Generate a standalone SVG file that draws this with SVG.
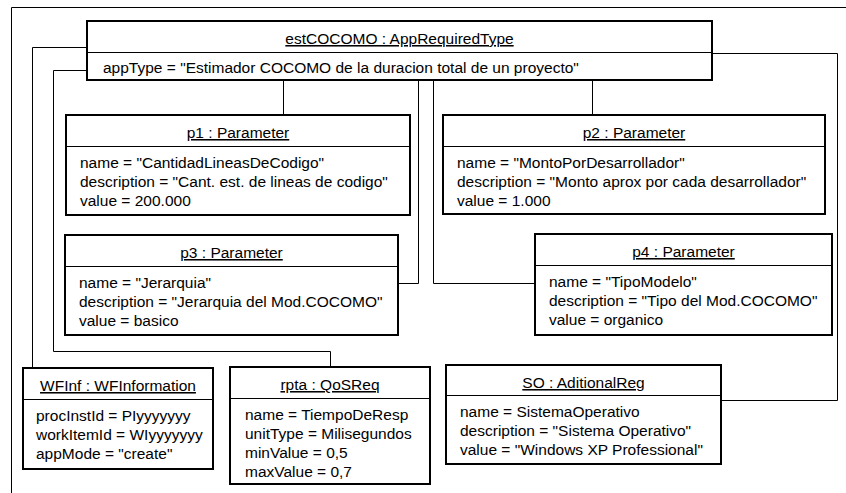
<svg xmlns="http://www.w3.org/2000/svg" width="846" height="493" viewBox="0 0 846 493">
<style>
.box{fill:#fff;stroke:#000;stroke-width:2}
.sep{stroke:#000;stroke-width:1}
.t{font-family:"Liberation Sans",Arial,sans-serif;font-size:15.5px;fill:#000}
.h{text-anchor:middle;text-decoration:underline}
.c{fill:none;stroke:#000;stroke-width:1}
</style>
<rect width="846" height="493" fill="#fff"/>
<path class="c" d="M11.5,493 V7.5 H846"/>
<g id="connectors">
<path class="c" d="M87,47.5 H32.5 V368"/>
<path class="c" d="M87,70.5 H53.5 V351.5 H330.5 V367"/>
<path class="c" d="M283.5,80 V115"/>
<path class="c" d="M592.5,80 V115"/>
<path class="c" d="M418.5,80 V283.5 H398"/>
<path class="c" d="M433.5,80 V283.5 H535"/>
<path class="c" d="M712,53.5 H837.5 V400.5 H721"/>
</g>
<g id="estCOCOMO">
<rect class="box" x="87" y="21" width="625" height="59"/>
<line class="sep" x1="87" y1="52.5" x2="712" y2="52.5"/>
<text class="t h" x="399.5" y="44">estCOCOMO : AppRequiredType</text>
<text class="t" x="103" y="73">appType = "Estimador COCOMO de la duracion total de un proyecto"</text>
</g>
<g id="p1">
<rect class="box" x="66" y="115" width="344" height="100"/>
<line class="sep" x1="66" y1="146.5" x2="410" y2="146.5"/>
<text class="t h" x="238" y="138">p1 : Parameter</text>
<text class="t" x="80" y="168">name = "CantidadLineasDeCodigo"</text>
<text class="t" x="80" y="187">description = "Cant. est. de lineas de codigo"</text>
<text class="t" x="80" y="206">value = 200.000</text>
</g>
<g id="p2">
<rect class="box" x="443" y="115" width="382" height="99"/>
<line class="sep" x1="443" y1="146.5" x2="825" y2="146.5"/>
<text class="t h" x="634" y="138">p2 : Parameter</text>
<text class="t" x="457" y="168">name = "MontoPorDesarrollador"</text>
<text class="t" x="457" y="187">description = "Monto aprox por cada desarrollador"</text>
<text class="t" x="457" y="206">value = 1.000</text>
</g>
<g id="p3">
<rect class="box" x="65" y="235" width="333" height="100"/>
<line class="sep" x1="65" y1="266.5" x2="398" y2="266.5"/>
<text class="t h" x="231.5" y="258">p3 : Parameter</text>
<text class="t" x="79" y="288">name = "Jerarquia"</text>
<text class="t" x="79" y="307">description = "Jerarquia del Mod.COCOMO"</text>
<text class="t" x="79" y="326">value = basico</text>
</g>
<g id="p4">
<rect class="box" x="535" y="234" width="297" height="101"/>
<line class="sep" x1="535" y1="265.5" x2="832" y2="265.5"/>
<text class="t h" x="683.5" y="257">p4 : Parameter</text>
<text class="t" x="549" y="287">name = "TipoModelo"</text>
<text class="t" x="549" y="306">description = "Tipo del Mod.COCOMO"</text>
<text class="t" x="549" y="325">value = organico</text>
</g>
<g id="WFInf">
<rect class="box" x="23" y="368" width="190" height="101"/>
<line class="sep" x1="23" y1="399.5" x2="213" y2="399.5"/>
<text class="t h" x="118" y="391">WFInf : WFInformation</text>
<text class="t" x="36" y="421">procInstId = PIyyyyyyy</text>
<text class="t" x="36" y="440">workItemId = WIyyyyyyy</text>
<text class="t" x="36" y="459">appMode = "create"</text>
</g>
<g id="rpta">
<rect class="box" x="230" y="367" width="200" height="117"/>
<line class="sep" x1="230" y1="398.5" x2="430" y2="398.5"/>
<text class="t h" x="330" y="390">rpta : QoSReq</text>
<text class="t" x="245" y="420">name = TiempoDeResp</text>
<text class="t" x="245" y="439">unitType = Milisegundos</text>
<text class="t" x="245" y="458">minValue = 0,5</text>
<text class="t" x="245" y="477">maxValue = 0,7</text>
</g>
<g id="SO">
<rect class="box" x="446" y="365" width="275" height="99"/>
<line class="sep" x1="446" y1="395.5" x2="721" y2="395.5"/>
<text class="t h" x="583.5" y="388">SO : AditionalReg</text>
<text class="t" x="460" y="417">name = SistemaOperativo</text>
<text class="t" x="460" y="436">description = "Sistema Operativo"</text>
<text class="t" x="460" y="455">value = "Windows XP Professional"</text>
</g>
</svg>
